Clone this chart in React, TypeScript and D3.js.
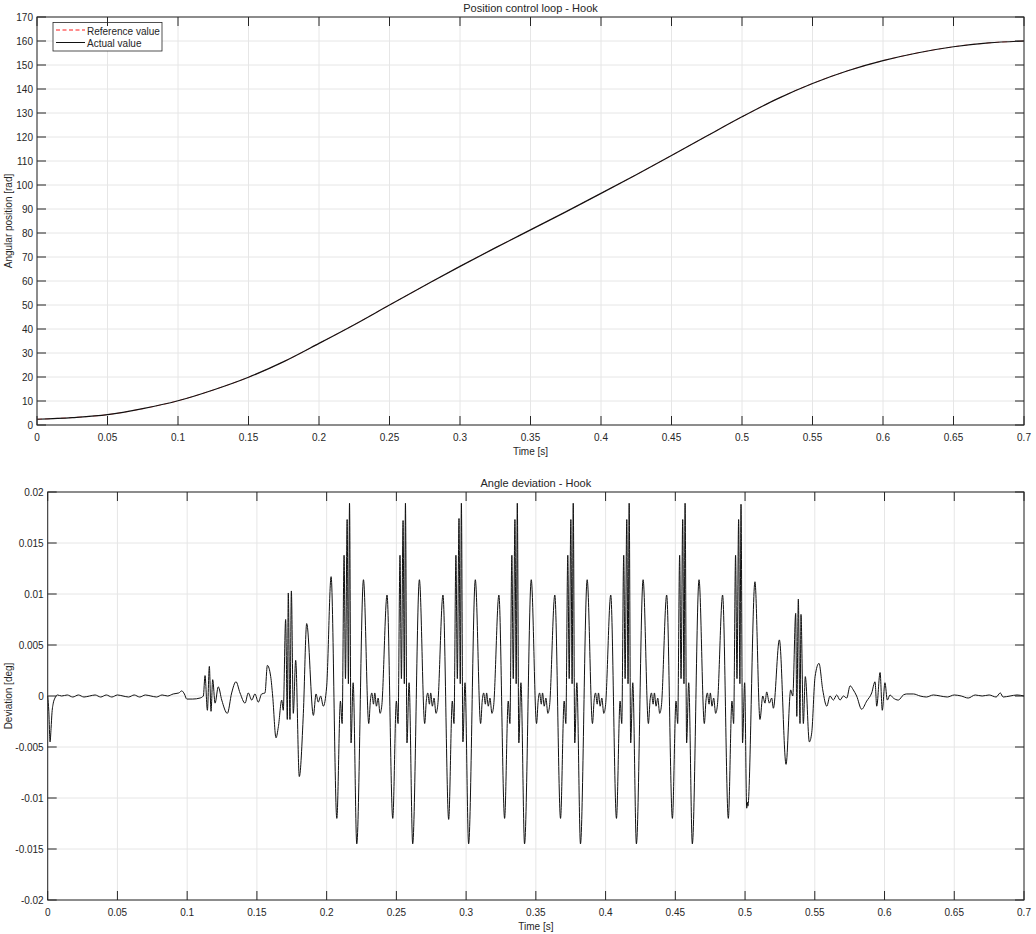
import React from "react";
import * as d3 from "d3";

// ---------- tick definitions ----------
const timeTicks = [0, 0.05, 0.1, 0.15, 0.2, 0.25, 0.3, 0.35, 0.4, 0.45, 0.5, 0.55, 0.6, 0.65, 0.7];
const timeTickLabels = ["0", "0.05", "0.1", "0.15", "0.2", "0.25", "0.3", "0.35", "0.4", "0.45", "0.5", "0.55", "0.6", "0.65", "0.7"];
const posTicks = [0, 10, 20, 30, 40, 50, 60, 70, 80, 90, 100, 110, 120, 130, 140, 150, 160, 170];
const posTickLabels = posTicks.map(String);
const devTicks = [-0.02, -0.015, -0.01, -0.005, 0, 0.005, 0.01, 0.015, 0.02];
const devTickLabels = ["-0.02", "-0.015", "-0.01", "-0.005", "0", "0.005", "0.01", "0.015", "0.02"];

// ---------- top plot: angular position ----------
const posTime = [0, 0.025, 0.05, 0.075, 0.1, 0.125, 0.15, 0.175, 0.2, 0.225, 0.25, 0.275, 0.3, 0.325, 0.35, 0.375, 0.4, 0.425, 0.45, 0.475, 0.5, 0.525, 0.55, 0.575, 0.6, 0.625, 0.65, 0.675, 0.7];
const posActual = [2.4, 3.1, 4.3, 6.8, 10.1, 14.6, 19.9, 26.4, 34.0, 41.8, 50.0, 58.1, 66.1, 73.8, 81.3, 88.8, 96.5, 104.3, 112.3, 120.4, 128.4, 135.9, 142.3, 147.6, 151.8, 155.1, 157.6, 159.2, 160.0];
const posReference = [2.4, 3.1, 4.3, 6.8, 10.1, 14.6, 19.9, 26.4, 34.0, 41.8, 50.0, 58.1, 66.1, 73.8, 81.3, 88.8, 96.5, 104.3, 112.3, 120.4, 128.4, 135.9, 142.3, 147.6, 151.8, 155.1, 157.6, 159.2, 160.0];

// ---------- bottom plot: angle deviation [t, value] ----------
const devStart: [number, number][] = [
  [0, 0], [0.0008, -0.0015], [0.0017, -0.0045], [0.0024, -0.0032], [0.0031, -0.0016], [0.004, -0.0007],
  [0.0052, -0.0002], [0.007, 0.0001], [0.01, 0.0], [0.014, 0.0001], [0.018, -0.0001], [0.022, 0.0001],
  [0.026, -0.0001], [0.03, 0.0], [0.034, 0.0001], [0.038, -0.0001], [0.042, 0.0001], [0.046, -0.0001],
  [0.05, 0.0001], [0.054, 0.0], [0.058, -0.0001], [0.062, 0.0001], [0.066, -0.0001], [0.07, 0.0001],
  [0.074, 0.0], [0.078, -0.0001], [0.082, 0.0001], [0.086, 0.0], [0.09, 0.0002], [0.094, 0.0003],
  [0.0961, 0.0005], [0.098, 0.0002], [0.0997, -0.0003], [0.104, -0.0003], [0.1092, -0.0002], [0.1116, 0.0],
];
const devRamp: [number, number][] = [
  [0.1128, 0.002], [0.1145, -0.0014], [0.1159, 0.0029], [0.1171, -0.0015], [0.1183, 0.0016], [0.12, -0.0007],
  [0.1223, 0.0009], [0.1248, -0.0004], [0.1288, -0.0017], [0.1319, 0.0003], [0.135, 0.0014], [0.1379, 0.0003],
  [0.1415, -0.0007], [0.1438, 0.0003], [0.1463, -0.0004], [0.1486, 0.0002], [0.151, -0.0006], [0.1534, 0.0002],
  [0.1558, 0.0003], [0.1575, 0.003], [0.1599, 0.0019], [0.1613, 0.0], [0.1637, -0.0041], [0.1654, -0.003],
  [0.1678, -0.0004], [0.1689, -0.0014], [0.1706, 0.0075], [0.1718, -0.0023], [0.1725, 0.0101], [0.1737, -0.0023],
  [0.1747, 0.0103], [0.1761, -0.0017], [0.1778, 0.0035], [0.1804, -0.0079], [0.1833, -0.0017], [0.1857, 0.0071],
  [0.1905, -0.0019], [0.1924, 0.0002], [0.194, -0.0006], [0.1957, 0.0], [0.1976, -0.001], [0.2, 0.0009],
];
const devCycle0: [number, number][] = [
  [0.2032, 0.0117], [0.2073, -0.012], [0.2099, -0.0005], [0.2111, -0.0027], [0.2125, 0.0138], [0.2135, 0.0017],
  [0.2147, 0.0173], [0.2156, 0.0012], [0.2164, 0.0189], [0.2175, -0.0046], [0.219, 0.0013], [0.2216, -0.0145],
  [0.2264, 0.0114], [0.2302, -0.0027], [0.2314, -0.0004], [0.2324, 0.0003], [0.2336, -0.0008], [0.2345, 0.0003],
  [0.2357, -0.001], [0.2369, -0.0002], [0.2383, -0.0017], [0.2395, -0.001],
];
const devCycle1: [number, number][] = [
  [0.2433, 0.0099], [0.2474, -0.012], [0.25, -0.0005], [0.2512, -0.0027], [0.2526, 0.0138], [0.2536, 0.0017],
  [0.2548, 0.0172], [0.2557, 0.0012], [0.2565, 0.0189], [0.2576, -0.0046], [0.2591, 0.0013], [0.2617, -0.0145],
  [0.2665, 0.0114], [0.2703, -0.0027], [0.2715, -0.0004], [0.2725, 0.0003], [0.2737, -0.0008], [0.2746, 0.0003],
  [0.2758, -0.001], [0.277, -0.0002], [0.2784, -0.0017], [0.2796, -0.001],
];
const devCycle2: [number, number][] = [
  [0.2834, 0.0099], [0.2875, -0.0121], [0.2901, -0.0005], [0.2913, -0.0027], [0.2927, 0.0138], [0.2937, 0.0017],
  [0.2949, 0.0174], [0.2958, 0.0012], [0.2966, 0.0189], [0.2977, -0.0045], [0.2992, 0.0013], [0.3018, -0.0145],
  [0.3066, 0.0114], [0.3104, -0.0027], [0.3116, -0.0004], [0.3126, 0.0003], [0.3138, -0.0008], [0.3147, 0.0003],
  [0.3159, -0.001], [0.3171, -0.0002], [0.3185, -0.0017], [0.3197, -0.001],
];
const devCycle3: [number, number][] = [
  [0.3235, 0.0099], [0.3276, -0.012], [0.3302, -0.0005], [0.3314, -0.0027], [0.3328, 0.0138], [0.3338, 0.0017],
  [0.335, 0.0173], [0.3359, 0.0012], [0.3367, 0.0189], [0.3378, -0.0046], [0.3393, 0.0013], [0.3419, -0.0145],
  [0.3467, 0.0114], [0.3505, -0.0027], [0.3517, -0.0004], [0.3527, 0.0003], [0.3539, -0.0008], [0.3548, 0.0003],
  [0.356, -0.001], [0.3572, -0.0002], [0.3586, -0.0017], [0.3598, -0.001],
];
const devCycle4: [number, number][] = [
  [0.3636, 0.0099], [0.3677, -0.012], [0.3703, -0.0005], [0.3715, -0.0027], [0.3729, 0.0138], [0.3739, 0.0017],
  [0.3751, 0.0173], [0.376, 0.0012], [0.3768, 0.0189], [0.3779, -0.0046], [0.3794, 0.0013], [0.382, -0.0145],
  [0.3868, 0.0114], [0.3906, -0.0027], [0.3918, -0.0004], [0.3928, 0.0003], [0.394, -0.0008], [0.3949, 0.0003],
  [0.3961, -0.001], [0.3973, -0.0002], [0.3987, -0.0017], [0.3999, -0.001],
];
const devCycle5: [number, number][] = [
  [0.4037, 0.0099], [0.4078, -0.012], [0.4104, -0.0005], [0.4116, -0.0027], [0.413, 0.0138], [0.414, 0.0017],
  [0.4152, 0.0173], [0.4161, 0.0012], [0.4169, 0.0189], [0.418, -0.0046], [0.4195, 0.0013], [0.4221, -0.0145],
  [0.4269, 0.0114], [0.4307, -0.0027], [0.4319, -0.0004], [0.4329, 0.0003], [0.4341, -0.0008], [0.435, 0.0003],
  [0.4362, -0.001], [0.4374, -0.0002], [0.4388, -0.0017], [0.44, -0.001],
];
const devCycle6: [number, number][] = [
  [0.4438, 0.0099], [0.4479, -0.012], [0.4505, -0.0005], [0.4517, -0.0027], [0.4531, 0.0138], [0.4541, 0.0017],
  [0.4553, 0.0173], [0.4562, 0.0012], [0.457, 0.0189], [0.4581, -0.0046], [0.4596, 0.0013], [0.4622, -0.0145],
  [0.467, 0.0114], [0.4708, -0.0027], [0.472, -0.0004], [0.473, 0.0003], [0.4742, -0.0008], [0.4751, 0.0003],
  [0.4763, -0.001], [0.4775, -0.0002], [0.4789, -0.0017], [0.4801, -0.001],
];
const devCycle7: [number, number][] = [
  [0.4839, 0.0099], [0.488, -0.012], [0.4906, -0.0005], [0.4918, -0.0027], [0.4932, 0.0138], [0.4942, 0.0017],
  [0.4954, 0.0173], [0.4963, 0.0012], [0.4971, 0.0188], [0.4982, -0.0046], [0.4997, 0.0013], [0.5012, -0.011],
  [0.5016, -0.0104], [0.502, -0.0108], [0.5071, 0.0112],
];
const devEnd: [number, number][] = [
  [0.5107, -0.0023], [0.5127, 0.0], [0.5143, -0.0007], [0.5155, 0.0004], [0.5174, -0.0007], [0.5191, -0.0002],
  [0.5203, -0.0012], [0.5246, 0.0055], [0.5294, -0.0067], [0.5327, 0.0006], [0.5342, 0.0], [0.5363, 0.0081],
  [0.5371, -0.002], [0.5382, 0.0095], [0.5394, -0.0027], [0.5401, 0.008], [0.5418, -0.0027], [0.5432, 0.0019],
  [0.5461, -0.0045], [0.5478, -0.0036], [0.5502, 0.0019], [0.553, 0.0032], [0.5557, 0.0006], [0.5586, -0.001],
  [0.5609, 0.0], [0.5633, -0.0004], [0.5657, 0.0001], [0.5681, -0.0004], [0.5705, 0.0], [0.5729, -0.0002],
  [0.5753, 0.001], [0.5776, 0.0006], [0.58, 0.0], [0.5836, -0.0013], [0.5872, -0.0005], [0.5908, 0.0003],
  [0.5932, 0.0014], [0.5944, -0.001], [0.5968, 0.0023], [0.5984, -0.0014], [0.6003, 0.0013], [0.602, -0.0004],
  [0.6039, 0.0001], [0.6063, -0.0002], [0.6099, -0.0004], [0.6135, 0.0001], [0.6159, 0.0002], [0.6207, 0.0002],
  [0.6255, 0.0], [0.63, -0.0001], [0.635, 0.0001], [0.64, 0.0], [0.645, -0.0001], [0.65, 0.0001], [0.655, 0.0],
  [0.66, -0.0002], [0.665, 0.0001], [0.67, 0.0], [0.675, 0.0001], [0.68, -0.0001], [0.683, 0.0003],
  [0.685, -0.0001], [0.69, 0.0], [0.695, 0.0001], [0.7, 0.0],
];

const FONT = "'Liberation Sans', Arial, Helvetica, sans-serif";
const INK = "#262626";
const GRID = "#e6e6e6";
const TICK_LEN = 9;

type AxesProps = {
  left: number; right: number; top: number; bottom: number;
  xScale: d3.ScaleLinear<number, number>;
  yScale: d3.ScaleLinear<number, number>;
  yTicks: number[]; yTickLabels: string[];
  title: string; yLabel: string; xLabel: string;
  children?: React.ReactNode;
};

function Axes(p: AxesProps) {
  const { left, right, top, bottom, xScale, yScale } = p;
  const midX = (left + right) / 2;
  const midY = (top + bottom) / 2;
  return (
    <g>
      <rect x={left} y={top} width={right - left} height={bottom - top} fill="#fff" />
      {timeTicks.map((t, i) => (
        <line key={"gx" + i} x1={xScale(t)} x2={xScale(t)} y1={top} y2={bottom} stroke={GRID} strokeWidth={1} />
      ))}
      {p.yTicks.map((v, i) => (
        <line key={"gy" + i} x1={left} x2={right} y1={yScale(v)} y2={yScale(v)} stroke={GRID} strokeWidth={1} />
      ))}
      {p.children}
      <rect x={left} y={top} width={right - left} height={bottom - top} fill="none" stroke={INK} strokeWidth={1} />
      {timeTicks.map((t, i) => (
        <g key={"tx" + i}>
          <line x1={xScale(t)} x2={xScale(t)} y1={bottom} y2={bottom - TICK_LEN} stroke={INK} strokeWidth={1} />
          <line x1={xScale(t)} x2={xScale(t)} y1={top} y2={top + TICK_LEN} stroke={INK} strokeWidth={1} />
          <text x={xScale(t)} y={bottom + 15.5} textAnchor="middle" fontSize={10} fill={INK} fontFamily={FONT}>
            {timeTickLabels[i]}
          </text>
        </g>
      ))}
      {p.yTicks.map((v, i) => (
        <g key={"ty" + i}>
          <line x1={left} x2={left + TICK_LEN} y1={yScale(v)} y2={yScale(v)} stroke={INK} strokeWidth={1} />
          <line x1={right} x2={right - TICK_LEN} y1={yScale(v)} y2={yScale(v)} stroke={INK} strokeWidth={1} />
          <text x={left - 4} y={yScale(v) + 3.5} textAnchor="end" fontSize={10} fill={INK} fontFamily={FONT}>
            {p.yTickLabels[i]}
          </text>
        </g>
      ))}
      <text x={midX} y={top - 5} textAnchor="middle" fontSize={11} fill={INK} fontFamily={FONT}>{p.title}</text>
      <text x={midX} y={bottom + 30} textAnchor="middle" fontSize={10} fill={INK} fontFamily={FONT}>{p.xLabel}</text>
      <text transform={`translate(12,${midY}) rotate(-90)`} textAnchor="middle" fontSize={10} fill={INK} fontFamily={FONT}>
        {p.yLabel}
      </text>
    </g>
  );
}

export default function App() {
  // top axes
  const tL = 37, tR = 1024, tT = 17, tB = 425;
  const xTop = d3.scaleLinear().domain([0, 0.7]).range([tL, tR]);
  const yTop = d3.scaleLinear().domain([0, 170]).range([tB, tT]);
  // bottom axes
  const bL = 47.7, bR = 1024, bT = 492, bB = 900;
  const xBot = d3.scaleLinear().domain([0, 0.7]).range([bL, bR]);
  const yBot = d3.scaleLinear().domain([-0.02, 0.02]).range([bB, bT]);

  const posLine = d3.line<number>()
    .x((_, i) => xTop(posTime[i]))
    .y((d) => yTop(d))
    .curve(d3.curveMonotoneX);

  const devData: [number, number][] = [
    ...devStart, ...devRamp, ...devCycle0, ...devCycle1, ...devCycle2, ...devCycle3,
    ...devCycle4, ...devCycle5, ...devCycle6, ...devCycle7, ...devEnd,
  ];
  const devLine = d3.line<[number, number]>()
    .x((d) => xBot(d[0]))
    .y((d) => yBot(d[1]))
    .curve(d3.curveMonotoneX);

  return (
    <svg width={1036} height={934} style={{ position: "absolute", left: 0, top: 0, background: "#fff" }}>
      <rect x={0} y={0} width={1036} height={934} fill="#fff" />
      <Axes left={tL} right={tR} top={tT} bottom={tB} xScale={xTop} yScale={yTop}
        yTicks={posTicks} yTickLabels={posTickLabels}
        title="Position control loop - Hook" yLabel="Angular position [rad]" xLabel="Time [s]">
        <path d={posLine(posReference) || ""} fill="none" stroke="#ff0000" strokeWidth={0.5} strokeDasharray="5,3" />
        <path d={posLine(posActual) || ""} fill="none" stroke="#111" strokeWidth={1.2} />
        <g>
          <rect x={53} y={22.5} width={109} height={28.5} fill="#fff" stroke={INK} strokeWidth={0.8} />
          <line x1={56} x2={85} y1={30} y2={30} stroke="#ff0000" strokeWidth={0.9} strokeDasharray="4,2.5" />
          <text x={87} y={34.5} fontSize={10} fill={INK} fontFamily={FONT}>Reference value</text>
          <line x1={56} x2={85} y1={42.5} y2={42.5} stroke="#111" strokeWidth={1} />
          <text x={87} y={46.5} fontSize={10} fill={INK} fontFamily={FONT}>Actual value</text>
        </g>
      </Axes>
      <Axes left={bL} right={bR} top={bT} bottom={bB} xScale={xBot} yScale={yBot}
        yTicks={devTicks} yTickLabels={devTickLabels}
        title="Angle deviation - Hook" yLabel="Deviation [deg]" xLabel="Time [s]">
        <path d={devLine(devData) || ""} fill="none" stroke="#111" strokeWidth={1} />
      </Axes>
    </svg>
  );
}
